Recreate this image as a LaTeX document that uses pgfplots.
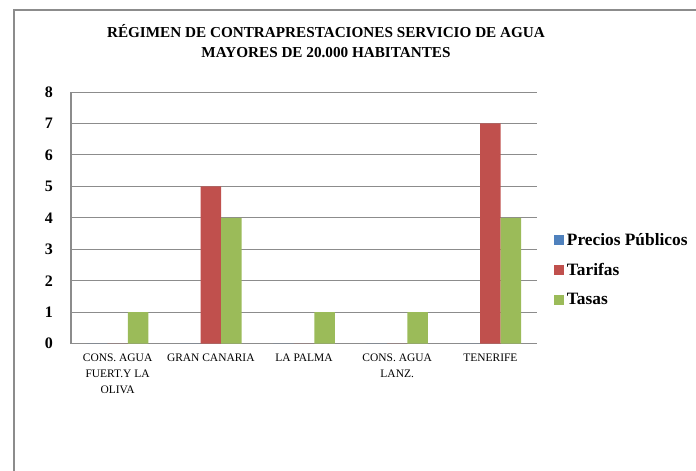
\documentclass[border=0pt]{standalone}
\usepackage{pgfplots}
\pgfplotsset{compat=1.18}
\usepackage{fontspec}
\setmainfont{Liberation Serif}
\definecolor{pubblue}{HTML}{4F81BD}
\definecolor{tarred}{HTML}{C0504D}
\definecolor{tasgreen}{HTML}{9BBB59}
\definecolor{gridgray}{HTML}{8C8C8C}
\begin{document}
\begin{tikzpicture}
% page 696 x 471 px, 1 px = 0.75pt, y up
\useasboundingbox (0,0) rectangle (522pt,353.25pt);
\draw[gridgray,line width=0.8pt] (10.5pt,0pt) -- (10.5pt,345.75pt) -- (522pt,345.75pt);
\node[font=\bfseries\fontsize{11.4}{15}\selectfont,align=center] at (244.5pt,322.5pt)
  {RÉGIMEN DE CONTRAPRESTACIONES SERVICIO DE AGUA\\MAYORES DE 20.000 HABITANTES};
\begin{axis}[
  at={(53.25pt,95.5pt)}, anchor=south west,
  scale only axis, width=349.5pt, height=188.8pt,
  ybar=0pt, bar width=0.22,
  xmin=-0.5, xmax=4.5, ymin=0, ymax=8,
  xtick={0,1,2,3,4},
  xticklabels={{CONS. AGUA\\FUERT.Y LA\\OLIVA},{GRAN CANARIA},{LA PALMA},{CONS. AGUA\\LANZ.},{TENERIFE}},
  ytick={0,1,...,8},
  x tick label style={font=\fontsize{8.6}{12}\selectfont, align=center, anchor=north, yshift=-4pt},
  y tick label style={font=\bfseries\fontsize{12}{13}\selectfont, xshift=-10pt},
  /pgf/number format/assume math mode=true,
  major tick length=0pt,
  axis x line*=bottom, axis y line*=left,
  axis line style={gridgray,-,line width=0.8pt},
  ymajorgrids, grid style={gridgray,line width=0.6pt},
  legend style={at={(1.028,0.293)}, anchor=west, draw=none, fill=none,
    font=\bfseries\fontsize{13}{14}\selectfont, row sep=8pt},
  legend cell align=left,
  legend image code/.code={\fill[#1] (0pt,-3.8pt) rectangle (7.5pt,3.8pt);},
]
\addplot[fill=pubblue, draw=none] coordinates {(0,0) (1,0) (2,0) (3,0) (4,0)};
\addplot[fill=tarred, draw=none] coordinates {(0,0) (1,5) (2,0) (3,0) (4,7)};
\addplot[fill=tasgreen, draw=none] coordinates {(0,1) (1,4) (2,1) (3,1) (4,4)};
\legend{Precios Públicos,Tarifas,Tasas}
\end{axis}
\end{tikzpicture}
\end{document}
